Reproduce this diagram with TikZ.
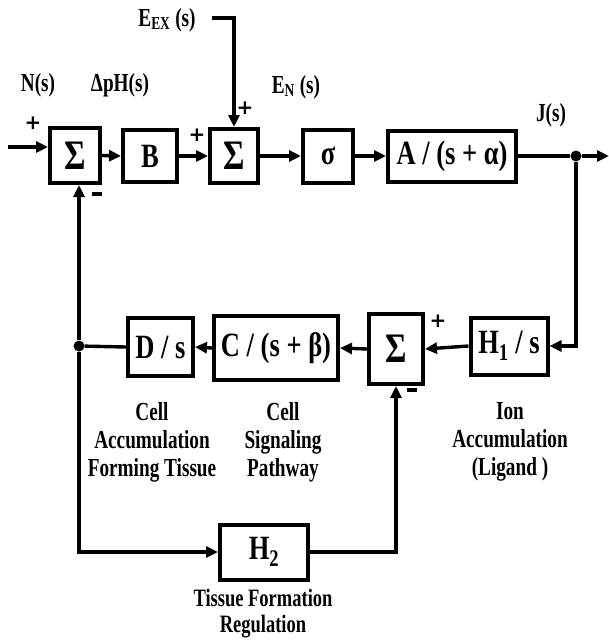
\documentclass[tikz,border=0pt]{standalone}
\usepackage{fontspec}
\setmainfont{Liberation Serif}[FakeStretch=0.78]
\newfontfamily\labfont{Liberation Serif}[FakeStretch=0.74]
\newfontfamily\sgnfont{DejaVu Sans}
\usetikzlibrary{arrows.meta}
\begin{document}
\begin{tikzpicture}[x=1pt,y=-1pt,
  blk/.style={draw, line width=4pt, inner sep=0pt, font=\fontsize{34}{36}\selectfont\bfseries},
  sigma/.style={blk, font=\fontsize{42}{42}\selectfont\bfseries},
  lab/.style={font=\labfont\fontsize{26}{28}\selectfont\bfseries, align=center, inner sep=0pt},
  sgn/.style={font=\sgnfont\fontsize{20}{20}\selectfont\bfseries, inner sep=0pt},
  wire/.style={line width=3.4pt},
  arr/.style={wire, -{Triangle[length=12pt,width=11pt]}},
  jdot/.style={circle, fill, inner sep=0pt, minimum size=11pt}]
\useasboundingbox (0,0) rectangle (609,641);
% blocks
\node[sigma, minimum width=50pt, minimum height=55pt] (s1) at (75,155.5) {Σ};
\node[blk, minimum width=54pt, minimum height=52pt] (b) at (150,156) {B};
\node[sigma, minimum width=48pt, minimum height=54pt] (s2) at (234,156) {Σ};
\node[blk, minimum width=50pt, minimum height=53pt] (sig) at (328,156) {σ};
\node[blk, minimum width=128pt, minimum height=51pt] (a) at (452,156) {A / (s + α)};
\node[blk, minimum width=77pt, minimum height=57pt] (h1) at (509,346) {H\textsubscript{1} / s};
\node[sigma, minimum width=54pt, minimum height=70pt] (s3) at (396,349) {Σ};
\node[blk, minimum width=124pt, minimum height=64pt] (c) at (276,348) {C / (s + β)};
\node[blk, minimum width=65pt, minimum height=58pt] (d) at (160.5,347) {D / s};
\node[blk, minimum width=88pt, minimum height=55pt] (h2) at (264,552) {H\textsubscript{2}};
% junctions and free ends
\node[jdot] (jr) at (576,156) {};
\node[jdot] (jl) at (79,346) {};
\coordinate (in) at (8,147);
\coordinate (out) at (609,156);
\coordinate (ex) at (212,18);
% connectors
\draw[arr] (in) -- (in -| s1.west);
\draw[arr] (s1.east) -- (b.west);
\draw[arr] (b.east) -- (s2.west);
\draw[arr] (s2.east) -- (sig.west);
\draw[arr] (sig.east) -- (a.west);
\draw[wire] (a.east) -- (jr);
\draw[arr] (jr) -- (out);
\draw[arr] (ex) -| (s2.north);
\draw[arr] (jr) |- (h1.east);
\draw[arr] (h1.west) -- (s3.east);
\draw[arr] (s3.west) -- (c.east);
\draw[arr] (c.west) -- (d.east);
\draw[wire] (d.west) -- (jl);
\draw[arr] (jl) -- (jl |- s1.south);
\draw[arr] (jl) |- (h2.west);
\draw[arr] (h2.east) -| (s3.south);
% signal labels
\node[lab] (lex) at (167,20) {E\textsubscript{EX} (s)};
\node[lab] (ln) at (38,85) {N(s)};
\node[lab] (lph) at (120,85) {ΔpH(s)};
\node[lab] (len) at (296,87) {E\textsubscript{N} (s)};
\node[lab] (lj) at (551,115) {J(s)};
% signs
\node[sgn] (p1) at (33,123) {+};
\node[sgn] (m1) at (97,194) {\rule{10pt}{4pt}};
\node[sgn] (p2) at (197,135) {+};
\node[sgn] (p3) at (245,108) {+};
\node[sgn] (p4) at (438,321) {+};
\node[sgn] (m3) at (412,390) {\rule{10pt}{4pt}};
% descriptions
\node[lab] (t1) at (152,442) {Cell\\Accumulation\\Forming Tissue};
\node[lab] (t2) at (283,442) {Cell\\Signaling\\Pathway};
\node[lab] (t3) at (510,442) {Ion\\Accumulation\\(Ligand )};
\node[lab, font=\labfont\fontsize{25}{26}\selectfont\bfseries] (t4) at (263,614) {Tissue Formation\\Regulation};
\end{tikzpicture}
\end{document}
